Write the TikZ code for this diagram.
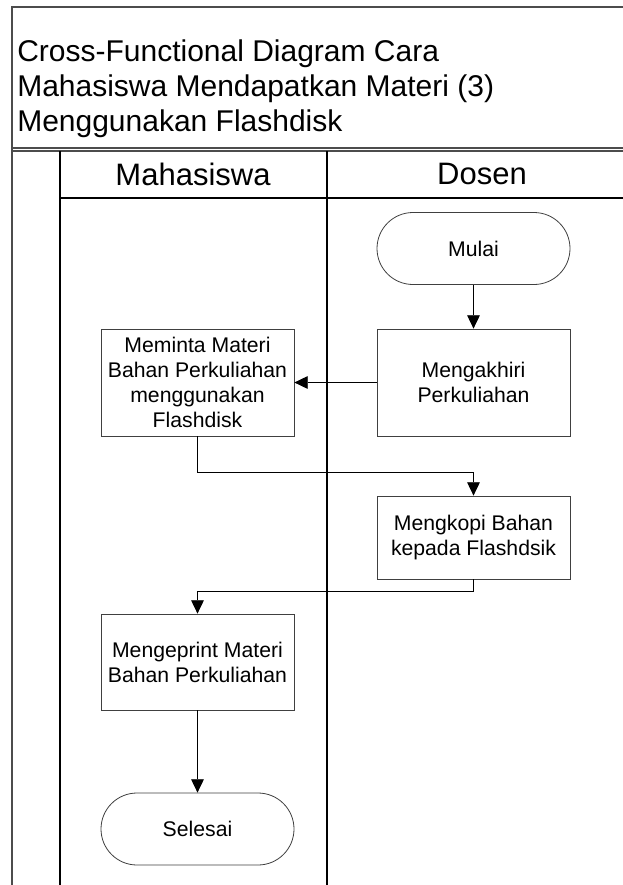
\documentclass[tikz,border=0pt]{standalone}
\usepackage{fontspec}
\setmainfont{Liberation Sans}
\usetikzlibrary{positioning}
\usetikzlibrary{arrows.meta}

\tikzset{
  proses/.style={draw=black!75, line width=0.6pt, fill=white, align=center, inner sep=2pt, minimum width=144.75pt, font=\fontsize{15.9}{18.75}\selectfont},
  terminal/.style={proses, rounded corners=27pt, minimum height=54pt},
  alur/.style={-{Triangle[length=10pt,width=9.5pt]}, black, line width=0.6pt},
  kolam/.style={black!70, line width=1.2pt},
  jalur/.style={black, line width=0.9pt},
  judulteks/.style={font=\fontsize{22.5}{26.25}\selectfont},
  lajurteks/.style={font=\fontsize{23.25}{26.25}\selectfont}
}

\begin{document}
\begin{tikzpicture}[x=0.75pt, y=-0.75pt]
\useasboundingbox (0,0) rectangle (623,885);

% pool and swimlanes
\draw[kolam] (623,7) -- (12,7) -- (12,885);
\draw[kolam] (12,148) -- (623,148);
\draw[kolam] (12,151) -- (623,151);
\draw[jalur] (60,151) -- (60,885);
\draw[jalur] (327,151) -- (327,885);
\draw[jalur] (60,198) -- (623,198);

\node[judulteks, anchor=north west, align=left, inner sep=0pt] (judul) at (17,39) {Cross-Functional Diagram Cara\\Mahasiswa Mendapatkan Materi (3)\\Menggunakan Flashdisk};

\node[lajurteks] (mhs) at (193,174) {Mahasiswa};
\node[lajurteks] (dsn) at (482,174) {Dosen};

% steps
\node[terminal] (mulai) at (473.5,248.5) {Mulai};
\node[proses, minimum height=80.25pt] (akhiri) at (473.5,382.5) {Mengakhiri\\Perkuliahan};
\node[proses, minimum height=80.25pt] (minta) at (197.5,382.5) {Meminta Materi\\Bahan Perkuliahan\\menggunakan\\Flashdisk};
\node[proses, minimum height=62.25pt] (kopi) at (473.5,537.5) {Mengkopi Bahan\\kepada Flashdsik};
\node[proses, minimum height=72pt] (cetak) at (197.5,662) {Mengeprint Materi\\Bahan Perkuliahan};
\node[terminal] (selesai) at (197.5,829) {Selesai};

\draw[alur] (mulai) -- (akhiri);
\draw[alur] (akhiri) -- (minta);
\draw[alur] (minta.south) -- ++(0,36) -| (kopi.north);
\draw[alur] (kopi.south) -- ++(0,12) -| (cetak.north);
\draw[alur] (cetak) -- (selesai);

\end{tikzpicture}
\end{document}
